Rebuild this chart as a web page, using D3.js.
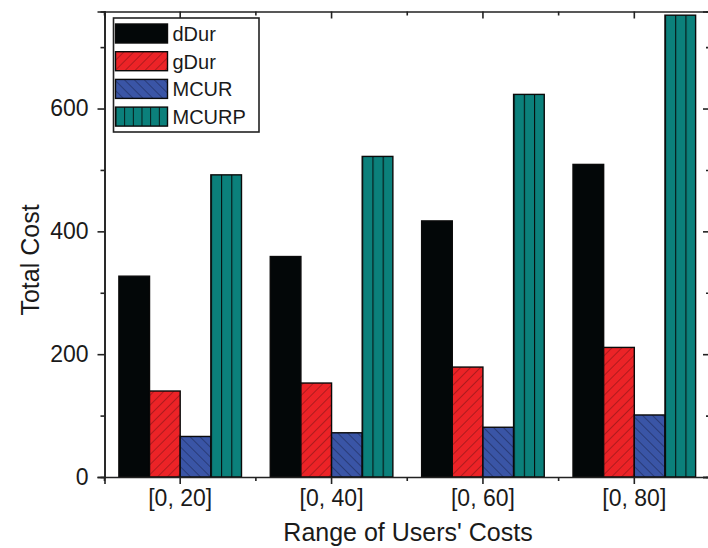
<!DOCTYPE html>
<html>
<head>
<meta charset="utf-8">
<script src="https://cdn.jsdelivr.net/npm/d3@7"></script>
<style>
  html, body { margin: 0; padding: 0; background: #fff; }
  svg { display: block; font-family: "Liberation Sans", Arial, sans-serif; }
</style>
</head>
<body>
<svg id="chart" width="708" height="548"></svg>
<script>
// Categories (x axis) and series
const categories = ["[0, 20]", "[0, 40]", "[0, 60]", "[0, 80]"];
const seriesNames = ["dDur", "gDur", "MCUR", "MCURP"];
const dDur  = [327, 359, 417, 509];
const gDur  = [140, 153, 179, 211];
const MCUR  = [66, 72, 81, 101];
const MCURP = [492, 522, 623, 752];
const yMajorTicks = [0, 200, 400, 600];
const yMinorTicks = [100, 300, 500, 700];

const seriesValues = { dDur, gDur, MCUR, MCURP };

const svg = d3.select("#chart");
const plot = { left: 104.5, right: 710, top: 11.5, bottom: 477 };
const axisColor = "#222";

// Scales
const x = d3.scaleBand()
  .domain(categories)
  .range([plot.left, plot.right])
  .paddingInner(0.19)
  .paddingOuter(0.095);
const xs = d3.scaleBand()
  .domain(seriesNames)
  .range([0, x.bandwidth()]);
const y = d3.scaleLinear()
  .domain([0, 758])
  .range([plot.bottom, plot.top]);

// Fill patterns
const defs = svg.append("defs");
function hatch(id, bg, line, angle) {
  const p = defs.append("pattern")
    .attr("id", id)
    .attr("patternUnits", "userSpaceOnUse")
    .attr("width", 7).attr("height", 7)
    .attr("patternTransform", `rotate(${angle})`);
  p.append("rect").attr("width", 7).attr("height", 7).attr("fill", bg);
  p.append("line").attr("x1", 0).attr("y1", -1).attr("x2", 0).attr("y2", 8)
    .attr("stroke", line).attr("stroke-width", 1.1);
}
hatch("pat-gDur", "#ec2327", "#7a1316", 45);
hatch("pat-MCUR", "#3a55a6", "#1b2550", -45);

function stripes(id, n) {
  const p = defs.append("pattern")
    .attr("id", id)
    .attr("patternUnits", "objectBoundingBox")
    .attr("patternContentUnits", "objectBoundingBox")
    .attr("width", 1 / n).attr("height", 1);
  p.append("rect").attr("width", 1 / n).attr("height", 1).attr("fill", "#0b807b");
  p.append("rect").attr("x", -0.035 / n * 3).attr("width", 0.07 / n * 3).attr("height", 1).attr("fill", "#061010");
}
stripes("pat-MCURP", 3);
stripes("pat-MCURP-legend", 6);

const fills = {
  dDur: "#030708",
  gDur: "url(#pat-gDur)",
  MCUR: "url(#pat-MCUR)",
  MCURP: "url(#pat-MCURP)"
};

// Bars
const groups = svg.append("g").selectAll("g")
  .data(categories)
  .join("g")
  .attr("transform", d => `translate(${x(d)},0)`);

groups.selectAll("rect")
  .data((c, i) => seriesNames.map(s => ({ s, v: seriesValues[s][i] })))
  .join("rect")
  .attr("x", d => xs(d.s))
  .attr("width", xs.bandwidth())
  .attr("y", d => y(d.v))
  .attr("height", d => y(0) - y(d.v))
  .attr("fill", d => fills[d.s])
  .attr("stroke", "#0a0a0a")
  .attr("stroke-width", 1.4);

// Axes
const fontSize = 23;
const step = x.step();
const boundaries = d3.range(categories.length + 1).map(i => plot.left + i * step);

function styleAxis(g) {
  g.selectAll("path, line").attr("stroke", axisColor).attr("stroke-width", 1.6);
  g.selectAll("text").attr("fill", "#1a1a1a").attr("font-size", fontSize)
    .attr("font-family", "'Liberation Sans', Arial, sans-serif");
}

// Bottom axis
svg.append("g")
  .attr("transform", `translate(0,${plot.bottom})`)
  .call(d3.axisBottom(x).tickSizeOuter(0).tickSize(7).tickPadding(6))
  .call(styleAxis);
svg.append("g").selectAll("line")
  .data(boundaries)
  .join("line")
  .attr("x1", d => d).attr("x2", d => d)
  .attr("y1", plot.bottom).attr("y2", plot.bottom + 4)
  .attr("stroke", axisColor).attr("stroke-width", 1.6);

// Top axis (inward ticks)
svg.append("g")
  .attr("transform", `translate(0,${plot.top})`)
  .call(d3.axisBottom(x).tickSizeOuter(0).tickSize(7).tickFormat(""))
  .call(styleAxis);
svg.append("g").selectAll("line")
  .data(boundaries)
  .join("line")
  .attr("x1", d => d).attr("x2", d => d)
  .attr("y1", plot.top).attr("y2", plot.top + 4)
  .attr("stroke", axisColor).attr("stroke-width", 1.6);

// Left axis
svg.append("g")
  .attr("transform", `translate(${plot.left},0)`)
  .call(d3.axisLeft(y).tickValues(yMajorTicks).tickSizeOuter(0).tickSize(7).tickPadding(9))
  .call(styleAxis);
svg.append("g")
  .attr("transform", `translate(${plot.left},0)`)
  .call(d3.axisLeft(y).tickValues(yMinorTicks).tickSizeOuter(0).tickSize(4).tickFormat(""))
  .call(styleAxis);

// Right axis (inward ticks)
svg.append("g")
  .attr("transform", `translate(${plot.right},0)`)
  .call(d3.axisLeft(y).tickValues(yMajorTicks).tickSizeOuter(0).tickSize(7).tickFormat(""))
  .call(styleAxis);
svg.append("g")
  .attr("transform", `translate(${plot.right},0)`)
  .call(d3.axisLeft(y).tickValues(yMinorTicks).tickSizeOuter(0).tickSize(4).tickFormat(""))
  .call(styleAxis);

// Axis titles
svg.append("text")
  .attr("x", 408)
  .attr("y", 541)
  .attr("text-anchor", "middle")
  .attr("font-size", 25)
  .attr("fill", "#1a1a1a")
  .text("Range of Users' Costs");
svg.append("text")
  .attr("transform", `translate(39,260) rotate(-90)`)
  .attr("text-anchor", "middle")
  .attr("font-size", 25)
  .attr("fill", "#1a1a1a")
  .text("Total Cost");

// Legend
const legend = svg.append("g").attr("transform", "translate(113.5,18)");
legend.append("rect")
  .attr("width", 145.5).attr("height", 114)
  .attr("fill", "#fff")
  .attr("stroke", axisColor).attr("stroke-width", 1.6);
const legendFills = { ...fills, MCURP: "url(#pat-MCURP-legend)" };
const rows = legend.selectAll("g.row")
  .data(seriesNames)
  .join("g")
  .attr("class", "row")
  .attr("transform", (d, i) => `translate(0,${6 + i * 27.7})`);
rows.append("rect")
  .attr("x", 2).attr("width", 52).attr("height", 19)
  .attr("fill", d => legendFills[d])
  .attr("stroke", "#0a0a0a").attr("stroke-width", 1.4);
rows.append("text")
  .attr("x", 59).attr("y", 17)
  .attr("font-size", 20)
  .attr("fill", "#1a1a1a")
  .text(d => d);
</script>
</body>
</html>
